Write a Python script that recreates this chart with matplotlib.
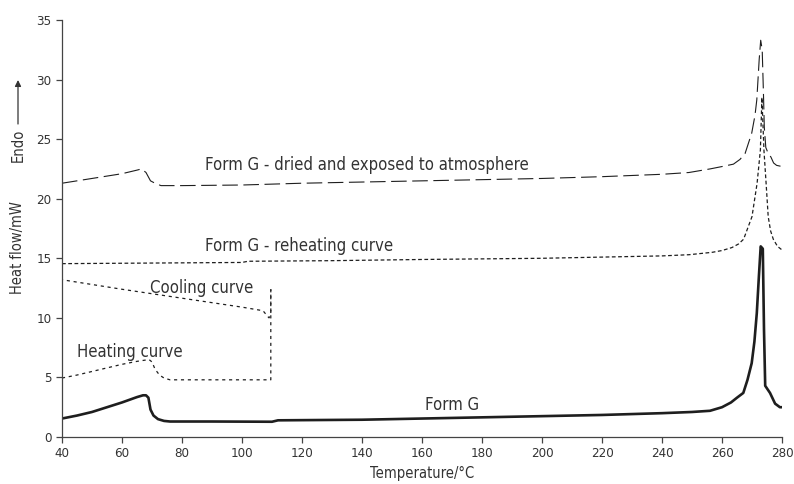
import numpy as np
import matplotlib
matplotlib.use("Agg")
import matplotlib.pyplot as plt
from matplotlib import font_manager

plt.rcParams['font.family'] = ['DejaVu Sans']
plt.rcParams['font.stretch'] = 'condensed'

# Form G (solid)
t_form_g = [40, 45, 50, 55, 60, 65, 67, 68, 68.8, 69.5, 70.5, 72, 74, 76, 90, 110, 112, 140,
            160, 180, 200, 220, 240, 250, 256, 260, 263, 265, 267.1, 268.5, 269.9, 270.8,
            271.6, 272.3, 272.9, 273.6, 274.0, 274.4, 275.2, 276.0, 277.7, 279.3, 280]
v_form_g = [1.55, 1.8, 2.1, 2.5, 2.9, 3.35, 3.5, 3.5, 3.3, 2.3, 1.8, 1.5, 1.35, 1.3, 1.3, 1.28, 1.4, 1.45,
            1.55, 1.65, 1.75, 1.85, 2.0, 2.1, 2.2, 2.5, 2.9, 3.3, 3.7, 4.8, 6.2, 8.0,
            10.4, 13.5, 16.0, 15.8, 9.0, 4.3, 4.0, 3.7, 2.8, 2.5, 2.5]

# Form G - dried and exposed to atmosphere (long dashes)
t_dried = [40, 50, 60, 65, 66.5, 68, 69.5, 71, 73, 80, 100, 120, 140, 160, 180, 200, 220, 240,
           249, 256, 260, 263.8, 266, 267.7, 269.9, 271.0, 271.6, 272.4, 272.9, 273.4, 273.8,
           274.1, 274.6, 275.4, 276.3, 277.2, 278.2, 280]
v_dried = [21.3, 21.7, 22.1, 22.4, 22.5, 22.2, 21.5, 21.3, 21.1, 21.1, 21.15, 21.3, 21.4, 21.5, 21.6, 21.7, 21.85, 22.05,
           22.2, 22.5, 22.7, 22.9, 23.3, 23.8, 25.5, 27.0, 28.3, 31.7, 33.3, 32.5, 29.0,
           26.0, 24.3, 23.8, 23.5, 23.0, 22.8, 22.7]

# Form G - reheating curve (short dashes)
t_reheat = [40, 70, 100, 102, 130, 160, 200, 220, 240, 249, 256.7, 260, 263.3, 265.5, 267.2,
            270.0, 271.7, 272.8, 273.3, 274.0, 274.7, 275.4, 276.2, 277.1, 278.5, 280]
v_reheat = [14.55, 14.6, 14.65, 14.75, 14.8, 14.9, 15.0, 15.1, 15.2, 15.3, 15.5, 15.65, 15.9, 16.2, 16.6,
            18.5, 21.3, 24.1, 28.5, 24.0, 21.3, 18.5, 17.3, 16.6, 16.0, 15.7]

# Heating curve (dotted)
t_heat = [40, 45, 50, 55, 60, 65, 69, 70, 71, 72.5, 74, 76, 90, 109.6, 109.6]
v_heat = [4.95, 5.2, 5.5, 5.8, 6.1, 6.35, 6.5, 6.3, 5.7, 5.2, 4.95, 4.8, 4.8, 4.8, 12.4]

# Cooling curve (dotted)
t_cool = [109.6, 109.6, 109.0, 108.3, 107, 100, 80, 60, 40]
v_cool = [12.4, 10.3, 10.0, 10.2, 10.6, 10.9, 11.65, 12.4, 13.2]

labels = ["Form G - dried and exposed to atmosphere", "Form G - reheating curve",
          "Cooling curve", "Heating curve", "Form G"]
label_x = [87.7, 87.7, 69.3, 45.0, 161.0]
label_y = [22.4, 15.6, 12.1, 6.7, 2.3]

line_col = "#1e1e1e"
text_col = "#333333"

fig = plt.figure(figsize=(7.94, 4.84), dpi=100)
ax = fig.add_axes([62 / 794, 47 / 484, 720 / 794, 417 / 484])

ax.plot(t_form_g, v_form_g, color=line_col, lw=1.9)
ax.plot(t_dried, v_dried, color=line_col, lw=0.8, linestyle=(0, (14, 5)))
ax.plot(t_reheat, v_reheat, color=line_col, lw=0.9, linestyle=(0, (3, 2)))
ax.plot(t_heat, v_heat, color=line_col, lw=0.9, linestyle=(0, (2.5, 3)))
ax.plot(t_cool, v_cool, color=line_col, lw=0.9, linestyle=(0, (2.5, 3)))

for s, x, y in zip(labels, label_x, label_y):
    ax.text(x, y, s, fontsize=12, color=text_col, ha="left", va="baseline")

ax.set_xlim(40, 280)
ax.set_ylim(0, 35)
ax.set_xticks(np.arange(40, 281, 20))
ax.set_yticks(np.arange(0, 36, 5))
for side in ["top", "right"]:
    ax.spines[side].set_visible(False)
for side in ["left", "bottom"]:
    ax.spines[side].set_color("#444444")
    ax.spines[side].set_linewidth(0.9)
ax.tick_params(direction="out", length=4, width=0.9, color="#444444",
               labelsize=9.5, labelcolor=text_col)

ax.set_xlabel("Temperature/°C", fontsize=10.5, color=text_col, labelpad=4)

fig.text(18 / 794, 1 - 248 / 484, "Heat flow/mW", rotation=90, fontsize=10.5,
         color=text_col, ha="center", va="center")
fig.text(18 / 794, 1 - 145 / 484, "Endo", rotation=90, fontsize=10.5,
         color=text_col, ha="center", va="center")
ax.annotate("", xy=(18 / 794, 1 - 80 / 484), xytext=(18 / 794, 1 - 124 / 484),
            xycoords="figure fraction", textcoords="figure fraction",
            arrowprops=dict(arrowstyle="-|>", color=text_col, lw=0.9,
                            mutation_scale=9, shrinkA=0, shrinkB=0))

fig.savefig("out.png", dpi=100)
